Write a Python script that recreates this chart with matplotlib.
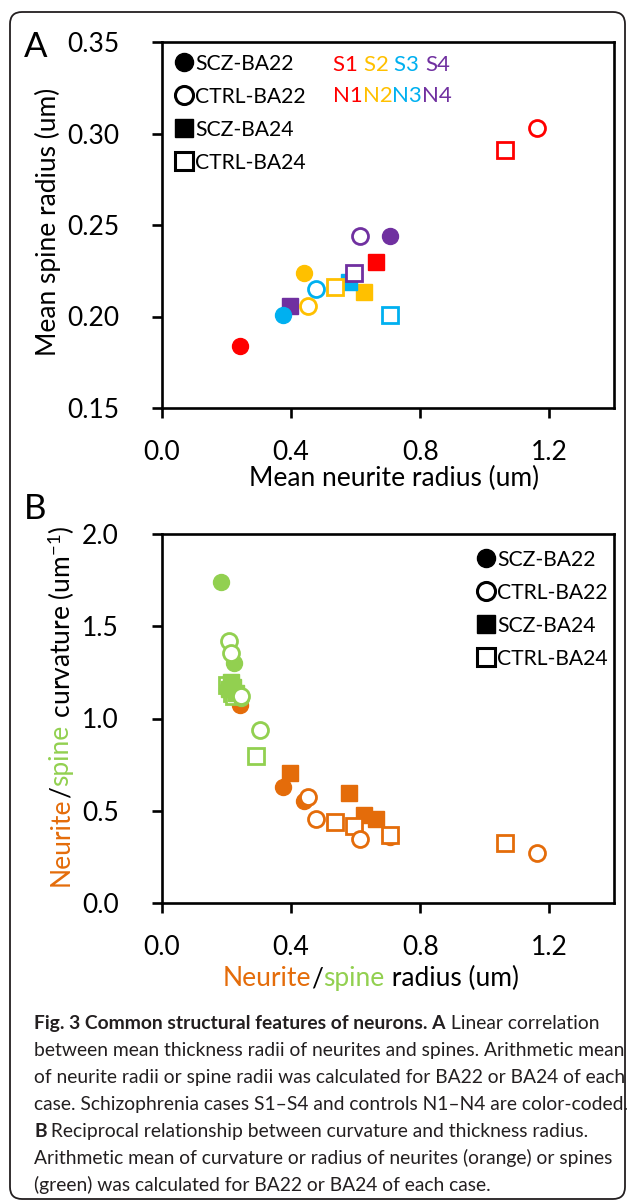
import matplotlib
matplotlib.use("Agg")
import matplotlib.pyplot as plt
from matplotlib.lines import Line2D
from matplotlib.patches import FancyBboxPatch

plt.rcParams['font.family'] = ['Lato', 'DejaVu Sans']
plt.rcParams['mathtext.fontset'] = 'custom'
plt.rcParams['mathtext.rm'] = 'Lato'
plt.rcParams['mathtext.it'] = 'Lato:italic'

#--- data ---
case_colors = ['#FF0000', '#FFC000', '#00B0F0', '#7030A0']
neurite_color = '#E46C0A'
spine_color = '#92D050'

# mean neurite radius (um), cases 1-4
scz_ba22_neurite = [0.243, 0.441, 0.375, 0.705]
scz_ba24_neurite = [0.662, 0.627, 0.578, 0.395]
ctrl_ba22_neurite = [1.163, 0.451, 0.478, 0.614]
ctrl_ba24_neurite = [1.062, 0.535, 0.707, 0.594]

# mean spine radius (um)
scz_ba22_spine = [0.184, 0.224, 0.201, 0.244]
scz_ba24_spine = [0.230, 0.2135, 0.219, 0.206]
ctrl_ba22_spine = [0.303, 0.206, 0.215, 0.244]
ctrl_ba24_spine = [0.291, 0.216, 0.201, 0.224]

# neurite curvature (um-1)
scz_ba22_neurite_curv = [1.073, 0.553, 0.627, 0.360]
scz_ba24_neurite_curv = [0.453, 0.477, 0.595, 0.703]
ctrl_ba22_neurite_curv = [0.273, 0.576, 0.453, 0.345]
ctrl_ba24_neurite_curv = [0.323, 0.437, 0.368, 0.417]

# spine curvature (um-1)
scz_ba22_spine_curv = [1.742, 1.299, 1.160, 1.110]
scz_ba24_spine_curv = [1.140, 1.200, 1.170, 1.160]
ctrl_ba22_spine_curv = [0.938, 1.420, 1.353, 1.124]
ctrl_ba24_spine_curv = [0.797, 1.140, 1.180, 1.120]

legend_labels = ['SCZ-BA22', 'CTRL-BA22', 'SCZ-BA24', 'CTRL-BA24']
x_ticks = [0.0, 0.4, 0.8, 1.2]
a_y_ticks = [0.15, 0.20, 0.25, 0.30, 0.35]
b_y_ticks = [0.0, 0.5, 1.0, 1.5, 2.0]

W, H = 627, 1204
fig = plt.figure(figsize=(W / 100, H / 100), dpi=100)


def fx(px):
    return px / W


def fy(py):
    return 1 - py / H


def style_axes(ax, yticks, yfmt):
    ax.set_xlim(0, 1.4)
    ax.set_ylim(yticks[0], yticks[-1])
    ax.set_xticks(x_ticks)
    ax.set_xticklabels(['%.1f' % v for v in x_ticks])
    ax.set_yticks(yticks)
    ax.set_yticklabels([yfmt % v for v in yticks])
    for s in ax.spines.values():
        s.set_linewidth(1.9)
    ax.tick_params(direction='out', length=7, width=1.9, labelsize=19)
    ax.tick_params(axis='x', pad=16)
    ax.tick_params(axis='y', pad=24)


def chain(parts, x, y, size, rotation=0, **kw):
    # colored text pieces placed one after the other
    prev = None
    for s, c in parts:
        if prev is None:
            if rotation:
                prev = fig.text(x, y, s, color=c, fontsize=size, rotation=90,
                                ha='center', va='bottom', **kw)
            else:
                prev = fig.text(x, y, s, color=c, fontsize=size,
                                ha='left', va='bottom', **kw)
        else:
            if rotation:
                prev = fig.axes[0].annotate(s, xy=(0.5, 1), xycoords=prev, color=c,
                                            fontsize=size, rotation=90,
                                            ha='center', va='bottom', **kw)
            else:
                prev = fig.axes[0].annotate(s, xy=(1, 0), xycoords=prev, color=c,
                                            fontsize=size, ha='left', va='bottom', **kw)
    return prev


def groups(x_lists, y_lists, colors, open_squares_first=False):
    fs = (x_lists[1], y_lists[1], 's', True, colors)
    fc = (x_lists[0], y_lists[0], 'o', True, colors)
    os_ = (x_lists[3], y_lists[3], 's', False, colors)
    oc = (x_lists[2], y_lists[2], 'o', False, colors)
    if open_squares_first:
        return [os_, fs, fc, oc]
    return [fs, fc, os_, oc]


def draw(ax, items, ms):
    for xs, ys, m, filled, colors in items:
        for x, y, c in zip(xs, ys, colors):
            if filled:
                ax.plot(x, y, m, ms=ms, mfc=c, mec=c, mew=1.0, ls='none')
            else:
                ax.plot(x, y, m, ms=ms, mfc='white', mec=c, mew=2.0, ls='none')


def legend(ax, loc, anchor):
    handles = [Line2D([], [], marker='o', ls='none', ms=13, mfc='black', mec='black'),
               Line2D([], [], marker='o', ls='none', ms=13, mfc='white', mec='black', mew=2.2),
               Line2D([], [], marker='s', ls='none', ms=13, mfc='black', mec='black'),
               Line2D([], [], marker='s', ls='none', ms=13, mfc='white', mec='black', mew=2.2)]
    return ax.legend(handles, legend_labels, loc=loc, bbox_to_anchor=anchor,
                     frameon=False, fontsize=15.2,
                     handlelength=0.65, handletextpad=0.2, labelspacing=0.62,
                     borderaxespad=0.25, borderpad=0.2)


#--- panel A ---
ax_a = fig.add_axes([fx(162), fy(408), fx(452), 366 / H])
draw(ax_a, groups([scz_ba22_neurite, scz_ba24_neurite, ctrl_ba22_neurite, ctrl_ba24_neurite],
                  [scz_ba22_spine, scz_ba24_spine, ctrl_ba22_spine, ctrl_ba24_spine],
                  case_colors), 11.5)
style_axes(ax_a, a_y_ticks, '%.2f')
legend(ax_a, 'upper left', (6 / 452, 1 - 2 / 366))

#--- panel B ---
ax_b = fig.add_axes([fx(162), fy(903), fx(452), 369 / H])
neurite_items = groups([scz_ba22_neurite, scz_ba24_neurite, ctrl_ba22_neurite, ctrl_ba24_neurite],
                       [scz_ba22_neurite_curv, scz_ba24_neurite_curv,
                        ctrl_ba22_neurite_curv, ctrl_ba24_neurite_curv],
                       [neurite_color] * 4)
spine_items = groups([scz_ba22_spine, scz_ba24_spine, ctrl_ba22_spine, ctrl_ba24_spine],
                     [scz_ba22_spine_curv, scz_ba24_spine_curv,
                      ctrl_ba22_spine_curv, ctrl_ba24_spine_curv],
                     [spine_color] * 4, open_squares_first=True)
draw(ax_b, neurite_items, 11.5)
draw(ax_b, spine_items, 11.5)
style_axes(ax_b, b_y_ticks, '%.1f')
legend(ax_b, 'upper right', (1 + 3 / 452, 1 - 6 / 369))

# colored case labels in panel A
chain([('S1 ', case_colors[0]), ('S2 ', case_colors[1]),
       ('S3 ', case_colors[2]), ('S4', case_colors[3])], fx(333), fy(75), 16)
chain([('N1', case_colors[0]), ('N2', case_colors[1]),
       ('N3', case_colors[2]), ('N4', case_colors[3])], fx(333), fy(106), 16)

# axis labels
fig.text(fx(48), fy(222), 'Mean spine radius (um)', rotation=90, fontsize=19,
         ha='center', va='center')
fig.text(fx(394), fy(478), 'Mean neurite radius (um)', fontsize=19,
         ha='center', va='center')
chain([('Neurite', neurite_color), ('/', 'black'), ('spine', spine_color),
       (' radius (um)', 'black')], fx(223), fy(991), 19)
chain([('Neurite', neurite_color), ('/', 'black'), ('spine', spine_color),
       (' curvature (um$^{-1}$)', 'black')], fx(61), fy(886), 19, rotation=90)

# panel letters
fig.text(fx(24), fy(57), 'A', fontsize=25, ha='left', va='baseline')
fig.text(fx(24), fy(519), 'B', fontsize=25, ha='left', va='baseline')

#--- caption ---
cap_color = '#231F20'
cap_size = 13.85
cap_lines = [
    [('Fig. 3 Common structural features of neurons. A', 'bold'), (' Linear correlation', 'normal')],
    [('between mean thickness radii of neurites and spines. Arithmetic mean', 'normal')],
    [('of neurite radii or spine radii was calculated for BA22 or BA24 of each', 'normal')],
    [('case. Schizophrenia cases S1\u2013S4 and controls N1\u2013N4 are color-coded.', 'normal')],
    [('B', 'bold'), (' Reciprocal relationship between curvature and thickness radius.', 'normal')],
    [('Arithmetic mean of curvature or radius of neurites (orange) or spines', 'normal')],
    [('(green) was calculated for BA22 or BA24 of each case.', 'normal')],
]
for i, line in enumerate(cap_lines):
    y = 1029 + i * 27
    prev = None
    for s, w in line:
        if prev is None:
            prev = fig.text(fx(34), fy(y), s, fontsize=cap_size, fontweight=w,
                            color=cap_color, ha='left', va='baseline')
        else:
            prev = ax_a.annotate(s, xy=(1, 0), xycoords=prev, fontsize=cap_size,
                                 fontweight=w, color=cap_color, ha='left', va='bottom')

# rounded frame round the figure
frame = FancyBboxPatch((0.10, 0.05), 6.15, 11.87, boxstyle='round,pad=0,rounding_size=0.12',
                       transform=fig.dpi_scale_trans, fill=False, ec='#231F20', lw=1.3)
fig.patches.append(frame)

fig.savefig('out.png', dpi=100)
